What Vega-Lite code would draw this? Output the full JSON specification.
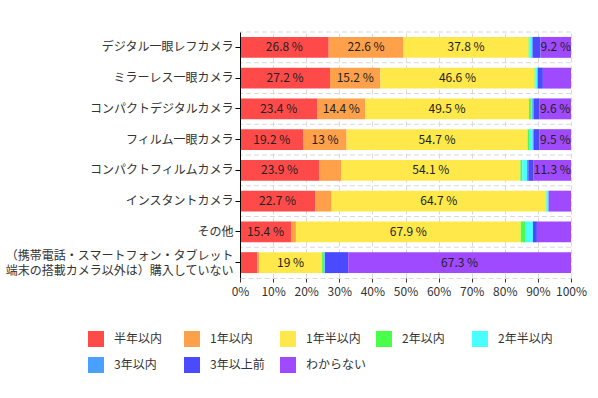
{
  "$schema": "https://vega.github.io/schema/vega-lite/v6.json",
  "width": 331,
  "height": 246,
  "autosize": {"type": "none"},
  "padding": {"left": 240, "top": 32, "right": 27, "bottom": 120},
  "background": "white",
  "config": {
    "font": "Noto Sans CJK JP",
    "view": {"stroke": null},
    "axis": {"labelFont": "Noto Sans CJK JP", "labelFontSize": 12, "labelColor": "#333333"},
    "axisX": {"labelOverlap": false, "labelFlush": false},
    "legend": {"labelFont": "Noto Sans CJK JP"}
  },
  "data": {
    "values": [
      {"cat": "デジタル一眼レフカメラ", "period": "半年以内", "value": 26.8},
      {"cat": "デジタル一眼レフカメラ", "period": "1年以内", "value": 22.6},
      {"cat": "デジタル一眼レフカメラ", "period": "1年半以内", "value": 37.8},
      {"cat": "デジタル一眼レフカメラ", "period": "2年以内", "value": 0.3},
      {"cat": "デジタル一眼レフカメラ", "period": "2年半以内", "value": 0.6},
      {"cat": "デジタル一眼レフカメラ", "period": "3年以内", "value": 0.3},
      {"cat": "デジタル一眼レフカメラ", "period": "3年以上前", "value": 2.4},
      {"cat": "デジタル一眼レフカメラ", "period": "わからない", "value": 9.2},
      {"cat": "ミラーレス一眼カメラ", "period": "半年以内", "value": 27.2},
      {"cat": "ミラーレス一眼カメラ", "period": "1年以内", "value": 15.2},
      {"cat": "ミラーレス一眼カメラ", "period": "1年半以内", "value": 46.6},
      {"cat": "ミラーレス一眼カメラ", "period": "2年以内", "value": 0.2},
      {"cat": "ミラーレス一眼カメラ", "period": "2年半以内", "value": 0.6},
      {"cat": "ミラーレス一眼カメラ", "period": "3年以内", "value": 0.2},
      {"cat": "ミラーレス一眼カメラ", "period": "3年以上前", "value": 1.5},
      {"cat": "ミラーレス一眼カメラ", "period": "わからない", "value": 8.5},
      {"cat": "コンパクトデジタルカメラ", "period": "半年以内", "value": 23.4},
      {"cat": "コンパクトデジタルカメラ", "period": "1年以内", "value": 14.4},
      {"cat": "コンパクトデジタルカメラ", "period": "1年半以内", "value": 49.5},
      {"cat": "コンパクトデジタルカメラ", "period": "2年以内", "value": 0.6},
      {"cat": "コンパクトデジタルカメラ", "period": "2年半以内", "value": 0.4},
      {"cat": "コンパクトデジタルカメラ", "period": "3年以内", "value": 0.4},
      {"cat": "コンパクトデジタルカメラ", "period": "3年以上前", "value": 1.7},
      {"cat": "コンパクトデジタルカメラ", "period": "わからない", "value": 9.6},
      {"cat": "フィルム一眼カメラ", "period": "半年以内", "value": 19.2},
      {"cat": "フィルム一眼カメラ", "period": "1年以内", "value": 13},
      {"cat": "フィルム一眼カメラ", "period": "1年半以内", "value": 54.7},
      {"cat": "フィルム一眼カメラ", "period": "2年以内", "value": 0.6},
      {"cat": "フィルム一眼カメラ", "period": "2年半以内", "value": 0.9},
      {"cat": "フィルム一眼カメラ", "period": "3年以内", "value": 0.4},
      {"cat": "フィルム一眼カメラ", "period": "3年以上前", "value": 1.7},
      {"cat": "フィルム一眼カメラ", "period": "わからない", "value": 9.5},
      {"cat": "コンパクトフィルムカメラ", "period": "半年以内", "value": 23.9},
      {"cat": "コンパクトフィルムカメラ", "period": "1年以内", "value": 6.7},
      {"cat": "コンパクトフィルムカメラ", "period": "1年半以内", "value": 54.1},
      {"cat": "コンパクトフィルムカメラ", "period": "2年以内", "value": 0.6},
      {"cat": "コンパクトフィルムカメラ", "period": "2年半以内", "value": 1.4},
      {"cat": "コンパクトフィルムカメラ", "period": "3年以内", "value": 0.4},
      {"cat": "コンパクトフィルムカメラ", "period": "3年以上前", "value": 1.6},
      {"cat": "コンパクトフィルムカメラ", "period": "わからない", "value": 11.3},
      {"cat": "インスタントカメラ", "period": "半年以内", "value": 22.7},
      {"cat": "インスタントカメラ", "period": "1年以内", "value": 5.0},
      {"cat": "インスタントカメラ", "period": "1年半以内", "value": 64.7},
      {"cat": "インスタントカメラ", "period": "2年以内", "value": 0.2},
      {"cat": "インスタントカメラ", "period": "2年半以内", "value": 0.5},
      {"cat": "インスタントカメラ", "period": "3年以内", "value": 0.2},
      {"cat": "インスタントカメラ", "period": "3年以上前", "value": 0},
      {"cat": "インスタントカメラ", "period": "わからない", "value": 6.7},
      {"cat": "その他", "period": "半年以内", "value": 15.4},
      {"cat": "その他", "period": "1年以内", "value": 1.5},
      {"cat": "その他", "period": "1年半以内", "value": 67.9},
      {"cat": "その他", "period": "2年以内", "value": 1.4},
      {"cat": "その他", "period": "2年半以内", "value": 2.3},
      {"cat": "その他", "period": "3年以内", "value": 0},
      {"cat": "その他", "period": "3年以上前", "value": 1.2},
      {"cat": "その他", "period": "わからない", "value": 10.3},
      {"cat": "（携帯電話・スマートフォン・タブレット\n端末の搭載カメラ以外は）購入していない", "period": "半年以内", "value": 5.2},
      {"cat": "（携帯電話・スマートフォン・タブレット\n端末の搭載カメラ以外は）購入していない", "period": "1年以内", "value": 0.6},
      {"cat": "（携帯電話・スマートフォン・タブレット\n端末の搭載カメラ以外は）購入していない", "period": "1年半以内", "value": 19},
      {"cat": "（携帯電話・スマートフォン・タブレット\n端末の搭載カメラ以外は）購入していない", "period": "2年以内", "value": 0.6},
      {"cat": "（携帯電話・スマートフォン・タブレット\n端末の搭載カメラ以外は）購入していない", "period": "2年半以内", "value": 0.2},
      {"cat": "（携帯電話・スマートフォン・タブレット\n端末の搭載カメラ以外は）購入していない", "period": "3年以内", "value": 0},
      {"cat": "（携帯電話・スマートフォン・タブレット\n端末の搭載カメラ以外は）購入していない", "period": "3年以上前", "value": 7.1},
      {"cat": "（携帯電話・スマートフォン・タブレット\n端末の搭載カメラ以外は）購入していない", "period": "わからない", "value": 67.3}
    ]
  },
  "transform": [
    {"calculate": "indexof(['半年以内','1年以内','1年半以内','2年以内','2年半以内','3年以内','3年以上前','わからない'], datum.period)", "as": "ord"},
    {"stack": "value", "groupby": ["cat"], "sort": [{"field": "ord", "order": "ascending"}], "as": ["v0", "v1"]},
    {"calculate": "(datum.v0 + datum.v1) / 2", "as": "mid"},
    {"calculate": "format(datum.value, '.1~f') + ' %'", "as": "label"}
  ],
  "layer": [
    {
      "transform": [{"filter": "datum.ord == 0"}],
      "mark": {"type": "rule", "color": "#d9d9d9", "strokeDash": [5, 3], "strokeWidth": 1},
      "encoding": {
        "y": {"field": "cat", "type": "nominal", "bandPosition": 0,
          "sort": ["デジタル一眼レフカメラ", "ミラーレス一眼カメラ", "コンパクトデジタルカメラ", "フィルム一眼カメラ", "コンパクトフィルムカメラ", "インスタントカメラ", "その他", "（携帯電話・スマートフォン・タブレット\n端末の搭載カメラ以外は）購入していない"]}
      }
    },
    {
      "transform": [{"filter": "datum.value > 0"}],
      "mark": {"type": "bar", "height": {"band": 0.68}},
      "encoding": {
        "y": {"field": "cat", "type": "nominal",
          "sort": ["デジタル一眼レフカメラ", "ミラーレス一眼カメラ", "コンパクトデジタルカメラ", "フィルム一眼カメラ", "コンパクトフィルムカメラ", "インスタントカメラ", "その他", "（携帯電話・スマートフォン・タブレット\n端末の搭載カメラ以外は）購入していない"],
          "scale": {"paddingInner": 0, "paddingOuter": 0},
          "axis": {"title": null, "zindex": 1, "domainColor": "#000000", "tickColor": "#000000", "tickSize": 5, "labelPadding": 2, "labelLimit": 300, "labelLineHeight": 15, "labelExpr": "split(datum.label, '\\n')", "labelBaseline": {"condition": {"test": "indexof(datum.label, '\\n') >= 0", "value": "bottom"}, "value": "middle"}, "grid": false}
        },
        "x": {"field": "v0", "type": "quantitative",
          "scale": {"domain": [0, 100], "nice": false},
          "axis": {"title": null, "values": [0, 10, 20, 30, 40, 50, 60, 70, 80, 90, 100], "labelExpr": "datum.value + '%'", "labelOverlap": false, "grid": true, "gridColor": "#d9d9d9", "gridDash": [5, 3], "domainColor": "#d9d9d9", "domainDash": [5, 3], "tickColor": "#333333", "tickSize": 4, "labelPadding": 4}
        },
        "x2": {"field": "v1"},
        "color": {"field": "period", "type": "nominal",
          "scale": {"domain": ["半年以内", "1年以内", "1年半以内", "2年以内", "2年半以内", "3年以内", "3年以上前", "わからない"],
            "range": ["#ff4a4a", "#ffa04a", "#ffe84a", "#4aff4a", "#4affff", "#4aa0ff", "#4a4aff", "#a04aff"]},
          "legend": {"title": null, "orient": "none", "legendX": -152, "legendY": 299, "direction": "horizontal", "columns": 5, "gridAlign": "all", "columnPadding": 9, "rowPadding": 10, "padding": 0, "symbolType": "square", "symbolSize": 256, "symbolStrokeWidth": 0, "labelOffset": 10, "labelFontSize": 12, "labelColor": "#333333", "labelLimit": 200}
        }
      }
    },
    {
      "transform": [{"filter": "datum.value * 3.31 >= length(datum.label) * 5.9"}],
      "mark": {"type": "text", "fontSize": 12, "color": "#222222"},
      "encoding": {
        "y": {"field": "cat", "type": "nominal",
          "sort": ["デジタル一眼レフカメラ", "ミラーレス一眼カメラ", "コンパクトデジタルカメラ", "フィルム一眼カメラ", "コンパクトフィルムカメラ", "インスタントカメラ", "その他", "（携帯電話・スマートフォン・タブレット\n端末の搭載カメラ以外は）購入していない"]},
        "x": {"field": "mid", "type": "quantitative",
          "axis": {"title": null, "values": [0, 10, 20, 30, 40, 50, 60, 70, 80, 90, 100], "labelExpr": "datum.value + '%'", "labelOverlap": false, "grid": true, "gridColor": "#d9d9d9", "gridDash": [5, 3], "domainColor": "#d9d9d9", "domainDash": [5, 3], "tickColor": "#333333", "tickSize": 4, "labelPadding": 4}},
        "text": {"field": "label"}
      }
    }
  ]
}
